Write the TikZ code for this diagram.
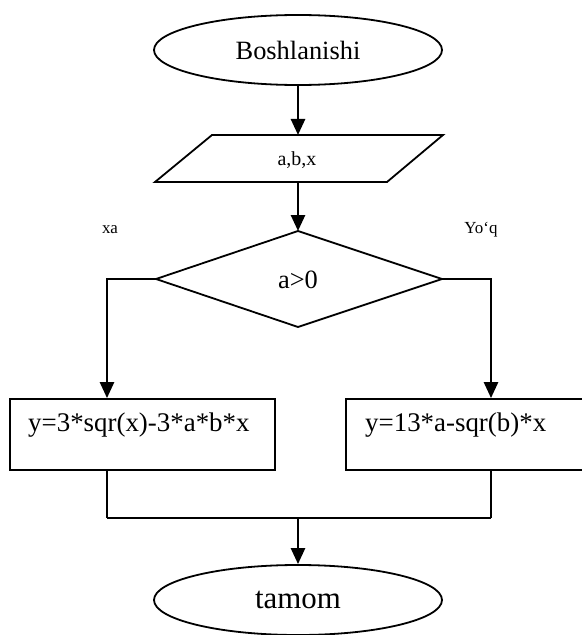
\documentclass[tikz,border=0pt]{standalone}
\usepackage{fontspec}
\setmainfont{Liberation Serif}
\usetikzlibrary{shapes.geometric,arrows.meta}
\begin{document}
\begin{tikzpicture}[x=1bp,y=-1bp,
  term/.style={ellipse,draw,line width=1.8bp,minimum width=288bp,minimum height=70bp,inner sep=0pt},
  procbox/.style={draw,line width=1.8bp,minimum height=71bp,inner sep=0pt},
  shapeline/.style={line width=1.8bp,line join=miter},
  flow/.style={line width=2.6bp,-{Triangle[length=16bp,width=14bp]}},
  joinline/.style={line width=1.2bp},
  mergeline/.style={line width=2.2bp},
  bigtext/.style={font=\fontsize{26.5}{30}\selectfont,inner sep=0pt},
  smalltext/.style={font=\fontsize{17}{20}\selectfont,inner sep=0pt}
]
\useasboundingbox (0,0) rectangle (582,635);

% start terminal
\node[term,bigtext] (start) at (298,50) {Boshlanishi};

% input parallelogram
\coordinate (inTop) at (298,135);
\coordinate (inBot) at (298,182);
\draw[shapeline] (212,135) -- (443,135) -- (387,182) -- (155,182) -- cycle;
\node[font=\fontsize{20}{24}\selectfont,inner sep=0pt] (inp) at (297,160) {a,b,x};

% decision diamond
\coordinate (decT) at (298,231);
\coordinate (decL) at (156,279);
\coordinate (decR) at (442,279);
\coordinate (decB) at (298,327);
\draw[shapeline] (decT) -- (decR) -- (decB) -- (decL) -- cycle;
\node[bigtext] (cond) at (298,280) {a>0};

% branch labels
\node[smalltext] (yes) at (110,230) {xa};
\node[smalltext] (no) at (481,230) {Yo‘q};

% process boxes
\node[procbox,minimum width=265bp] (boxL) at (142.5,434.5) {};
\node[bigtext,font=\fontsize{27}{30}\selectfont,anchor=west] (txtL) at (28,425) {y=3*sqr(x)-3*a*b*x};
\node[procbox,minimum width=244bp] (boxR) at (468,434.5) {};
\node[bigtext,font=\fontsize{27}{30}\selectfont,anchor=west] (txtR) at (365,425) {y=13*a-sqr(b)*x};

% end terminal
\node[term,font=\fontsize{31}{36}\selectfont] (stop) at (298,600) {tamom};

% routing points
\coordinate (jl) at (107,279);
\coordinate (jr) at (491,279);
\coordinate (ml) at (107,518);
\coordinate (mr) at (491,518);
\coordinate (mm) at (298,518);

% connectors
\draw[flow] (start.south) -- (inTop);
\draw[flow] (inBot) -- (decT);
\draw[flow] (decL) -- (jl) -- (jl |- boxL.north);
\draw[flow] (decR) -- (jr) -- (jr |- boxR.north);
\draw[joinline] (boxL.south -| ml) -- (ml);
\draw[joinline] (boxR.south -| mr) -- (mr);
\draw[mergeline] (ml) -- (mr);
\draw[flow] (mm) -- (stop.north);
\end{tikzpicture}
\end{document}
